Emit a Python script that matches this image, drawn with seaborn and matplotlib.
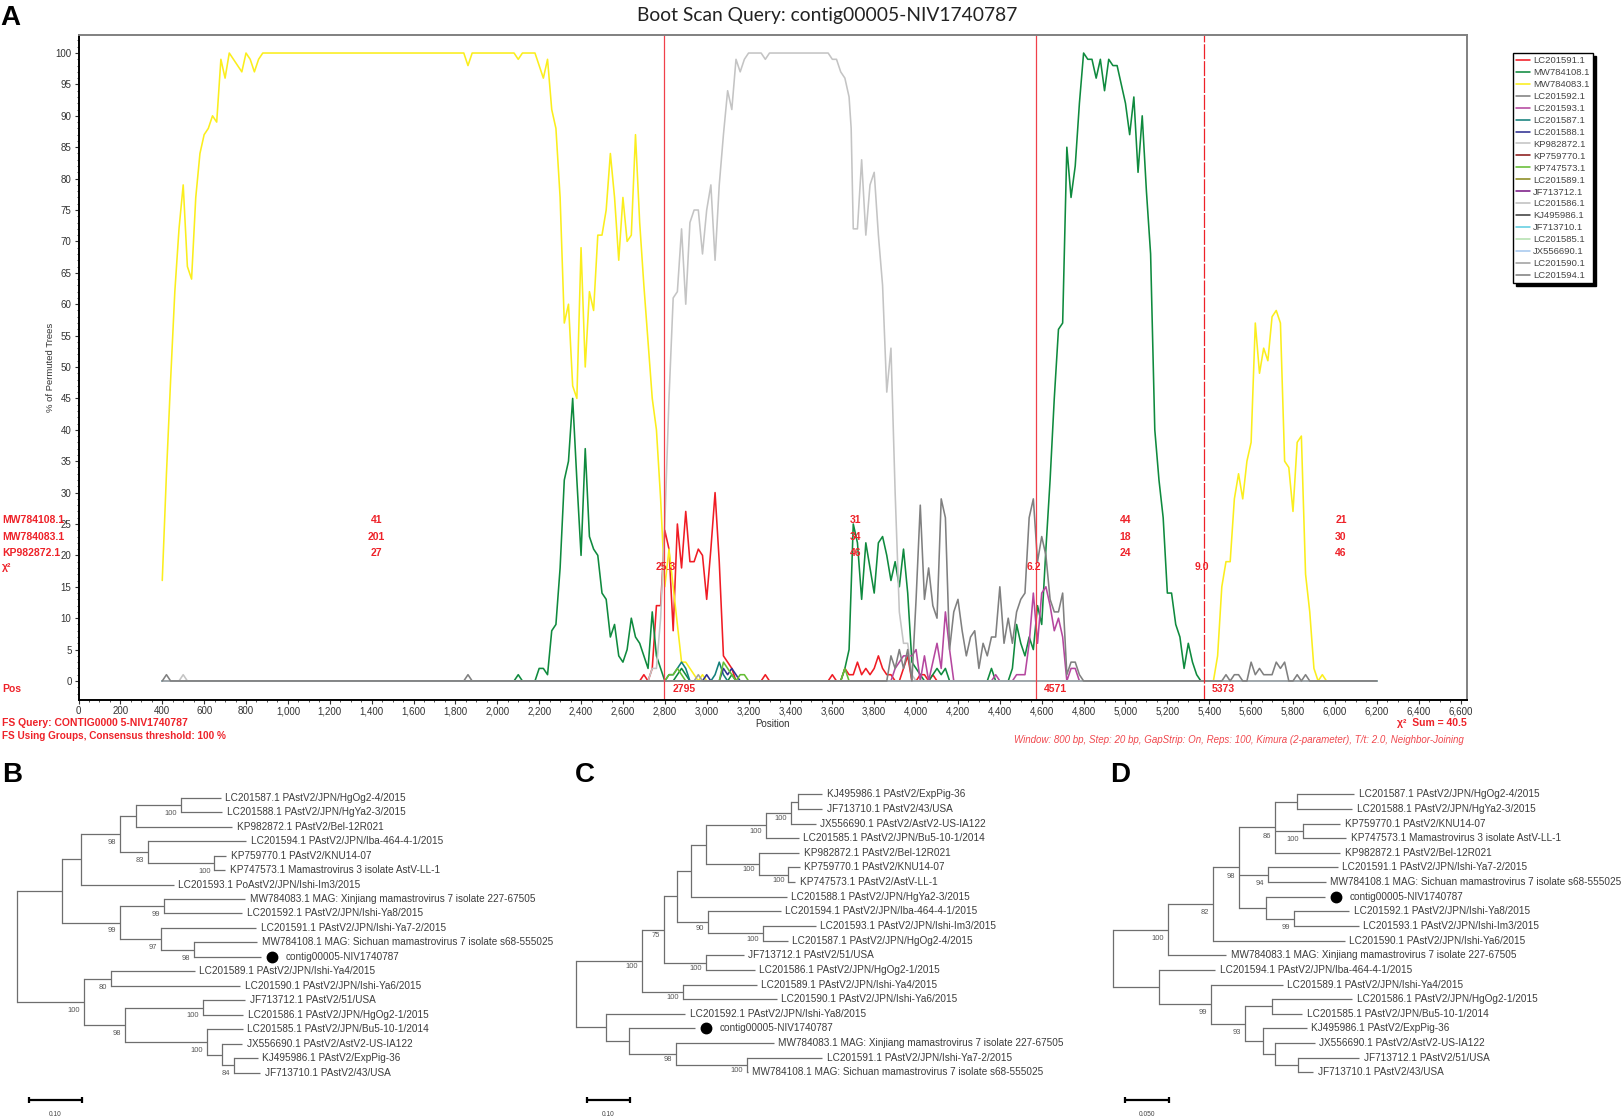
# bootscan panel plus three neighbour-joining trees
import pandas as pd
import matplotlib.pyplot as plt
import seaborn as sns
from matplotlib.ticker import FuncFormatter, MultipleLocator

W, H = 1624, 1118

# ------------------------
# Bootscan series (position, % of permuted trees)
# ------------------------
SERIES_NAMES = [
    "LC201591.1", "MW784108.1", "MW784083.1", "LC201592.1", "LC201593.1",
    "LC201587.1", "LC201588.1", "KP982872.1", "KP759770.1", "KP747573.1",
    "LC201589.1", "JF713712.1", "LC201586.1", "KJ495986.1", "JF713710.1",
    "LC201585.1", "JX556690.1", "LC201590.1", "LC201594.1",
]
SERIES_COLORS = [
    "#f01c24", "#0f8a3e", "#fbee1d", "#808080", "#b5479f",
    "#14807c", "#2f3192", "#c4c4c4", "#8b1a1a", "#65bd34",
    "#8a8a1f", "#7b1a86", "#c0c0c0", "#404040", "#62cde0",
    "#b4e0b0", "#a6c8ee", "#a0a0a0", "#808080",
]

LC201591_POS = [400, 2680, 2700, 2720, 2740, 2760, 2780, 2800, 2820, 2840, 2860, 2880, 2900, 2920, 2940,
                2960, 2980, 3000, 3020, 3040, 3060, 3080, 3100, 3120, 3140, 3260, 3280, 3300, 3580, 3600,
                3620, 3640, 3660, 3680, 3700, 3720, 3740, 3760, 3780, 3800, 3820, 3840, 3860, 3880, 3900,
                3920, 3940, 3960, 3980, 4000, 4020, 4040, 4060, 4080, 4100, 6200]
LC201591_VAL = [0, 0, 1, 0, 2, 12, 12, 24, 21, 8, 25, 18, 27, 19, 19,
                21, 20, 13, 21, 30, 19, 4, 3, 2, 0, 0, 1, 0, 0, 1,
                0, 0, 2, 1, 1, 3, 1, 2, 1, 2, 4, 2, 1, 1, 0,
                0, 2, 4, 0, 0, 1, 1, 0, 1, 0, 0]

MW784108_POS = [400, 2080, 2100, 2120, 2180, 2200, 2220, 2240, 2260, 2280, 2300, 2320, 2340, 2360, 2380,
                2400, 2420, 2440, 2460, 2480, 2500, 2520, 2540, 2560, 2580, 2600, 2620, 2640, 2660, 2680,
                2700, 2720, 2740, 2760, 2780, 2800, 2840, 2860, 2880, 2900, 2920, 3100, 3120, 3140, 3640,
                3660, 3680, 3700, 3720, 3740, 3760, 3780, 3800, 3820, 3840, 3860, 3880, 3900, 3920, 3940,
                3960, 3980, 4000, 4020, 4040, 4060, 4080, 4100, 4120, 4140, 4160, 4340, 4360, 4380, 4440,
                4460, 4480, 4500, 4520, 4540, 4560, 4580, 4600, 4620, 4640, 4660, 4680, 4700, 4720, 4740,
                4760, 4780, 4800, 4820, 4840, 4860, 4880, 4900, 4920, 4940, 4960, 4980, 5000, 5020, 5040,
                5060, 5080, 5100, 5120, 5140, 5160, 5180, 5200, 5220, 5240, 5260, 5280, 5300, 5320, 5340,
                5360, 6200]
MW784108_VAL = [0, 0, 1, 0, 0, 2, 2, 1, 8, 9, 18, 32, 35, 45, 32,
                20, 37, 23, 21, 20, 14, 13, 7, 9, 4, 3, 5, 10, 7, 6,
                4, 2, 11, 4, 2, 0, 0, 1, 2, 1, 0, 0, 1, 0, 0,
                2, 5, 25, 22, 13, 22, 18, 14, 22, 23, 20, 16, 19, 15, 21,
                14, 3, 2, 1, 0, 0, 1, 2, 1, 2, 0, 0, 2, 0, 0,
                2, 9, 6, 4, 7, 5, 12, 9, 21, 32, 45, 56, 57, 85, 77,
                82, 92, 100, 99, 99, 96, 99, 94, 99, 98, 98, 95, 92, 87, 93,
                81, 90, 78, 68, 40, 32, 26, 14, 14, 9, 7, 2, 6, 3, 1,
                0, 0]

MW784083_POS = [400, 420, 440, 460, 480, 500, 520, 540, 560, 580, 600, 620, 640, 660, 680,
                700, 720, 740, 760, 780, 800, 820, 840, 860, 880, 1840, 1860, 1880, 2080, 2100,
                2120, 2180, 2200, 2220, 2240, 2260, 2280, 2300, 2320, 2340, 2360, 2380, 2400, 2420, 2440,
                2460, 2480, 2500, 2520, 2540, 2560, 2580, 2600, 2620, 2640, 2660, 2680, 2700, 2720, 2740,
                2760, 2780, 2800, 2820, 2840, 2860, 2880, 2900, 2920, 2940, 2960, 2980, 3000, 5420, 5440,
                5460, 5480, 5500, 5520, 5540, 5560, 5580, 5600, 5620, 5640, 5660, 5680, 5700, 5720, 5740,
                5760, 5780, 5800, 5820, 5840, 5860, 5880, 5900, 5920, 5940, 5960, 6200]
MW784083_VAL = [16, 33, 48, 62, 72, 79, 66, 64, 77, 84, 87, 88, 90, 89, 99,
                96, 100, 99, 98, 97, 100, 99, 97, 99, 100, 100, 98, 100, 100, 99,
                100, 100, 98, 96, 99, 91, 88, 77, 57, 60, 47, 45, 69, 50, 62,
                59, 71, 71, 75, 84, 77, 67, 77, 70, 71, 87, 73, 63, 54, 45,
                40, 29, 15, 21, 15, 9, 3, 3, 2, 1, 0, 1, 0, 0, 4,
                15, 19, 19, 29, 33, 29, 35, 38, 57, 49, 53, 51, 58, 59, 57,
                35, 34, 27, 38, 39, 17, 11, 2, 0, 1, 0, 0]

LC201592_POS = [400, 1840, 1860, 1880, 6200]
LC201592_VAL = [0, 0, 1, 0, 0]

LC201593_POS = [400, 3880, 3900, 3920, 3940, 3960, 3980, 4000, 4020, 4040, 4060, 4080, 4100, 4120, 4140,
                4160, 4180, 4360, 4380, 4400, 4460, 4480, 4500, 4520, 4540, 4560, 4580, 4600, 4620, 4640,
                4660, 4680, 4700, 4720, 4740, 4760, 4780, 6200]
LC201593_VAL = [0, 0, 2, 3, 4, 4, 4, 5, 0, 4, 0, 3, 6, 2, 11,
                5, 0, 0, 1, 0, 0, 1, 1, 1, 6, 14, 6, 14, 15, 12,
                8, 10, 7, 0, 2, 2, 0, 0]

LC201587_POS = [400, 2800, 2820, 2840, 2860, 2880, 2900, 2920, 3020, 3040, 3060, 3080, 3100, 6200]
LC201587_VAL = [0, 0, 1, 1, 2, 3, 2, 0, 0, 1, 3, 1, 0, 0]

LC201588_POS = [400, 2980, 3000, 3020, 3060, 3080, 3100, 3120, 3140, 3160, 6200]
LC201588_VAL = [0, 0, 1, 0, 0, 2, 1, 2, 1, 0, 0]

KP982872_POS = [400, 480, 500, 520, 2720, 2740, 2760, 2780, 2800, 2820, 2840, 2860, 2880, 2900, 2920,
                2940, 2960, 2980, 3000, 3020, 3040, 3060, 3080, 3100, 3120, 3140, 3160, 3180, 3200, 3260,
                3280, 3300, 3580, 3600, 3620, 3640, 3660, 3680, 3690, 3700, 3720, 3740, 3760, 3780, 3800,
                3820, 3840, 3860, 3880, 3900, 3920, 3940, 3960, 3980, 4000, 6200]
KP982872_VAL = [0, 0, 1, 0, 0, 2, 2, 10, 25, 45, 61, 62, 72, 60, 73,
                75, 75, 68, 75, 79, 67, 79, 87, 94, 91, 99, 97, 99, 100, 100,
                99, 100, 100, 99, 99, 97, 96, 93, 88, 72, 72, 83, 71, 79, 81,
                71, 63, 46, 53, 30, 11, 6, 6, 1, 0, 0]

KP759770_POS = [400, 6200]
KP759770_VAL = [0, 0]

KP747573_POS = [400, 2800, 2820, 2840, 2860, 2880, 2900, 3060, 3080, 3100, 3120, 3140, 3160, 3180, 3200,
                3640, 3660, 3680, 6200]
KP747573_VAL = [0, 0, 1, 1, 2, 1, 0, 0, 3, 2, 1, 0, 1, 1, 0,
                0, 2, 0, 0]

LC201590_POS = [400, 2940, 2960, 2980, 6200]
LC201590_VAL = [0, 0, 1, 0, 0]

LC201594_POS = [400, 420, 440, 3860, 3880, 3900, 3920, 3940, 3960, 3980, 4000, 4020, 4040, 4060, 4080,
                4100, 4120, 4140, 4160, 4180, 4200, 4220, 4240, 4260, 4280, 4300, 4320, 4340, 4360, 4380,
                4400, 4420, 4440, 4460, 4480, 4500, 4520, 4540, 4560, 4580, 4600, 4620, 4640, 4660, 4680,
                4700, 4720, 4740, 4760, 4780, 4800, 5460, 5480, 5500, 5520, 5540, 5560, 5580, 5600, 5620,
                5640, 5660, 5680, 5700, 5720, 5740, 5760, 5780, 5800, 5820, 5840, 5860, 5880, 6200]
LC201594_VAL = [0, 1, 0, 0, 4, 2, 5, 2, 5, 0, 13, 28, 13, 18, 12,
                10, 29, 26, 5, 11, 13, 8, 4, 7, 8, 2, 6, 4, 7, 7,
                15, 6, 10, 6, 11, 13, 14, 26, 29, 19, 23, 20, 13, 11, 11,
                14, 1, 3, 3, 1, 0, 0, 1, 0, 1, 1, 0, 0, 3, 1,
                2, 1, 1, 1, 3, 2, 3, 0, 0, 1, 0, 1, 0, 0]

FLAT_POS = [400, 6200]
FLAT_VAL = [0, 0]

SERIES_DATA = {
    "LC201591.1": (LC201591_POS, LC201591_VAL),
    "MW784108.1": (MW784108_POS, MW784108_VAL),
    "MW784083.1": (MW784083_POS, MW784083_VAL),
    "LC201592.1": (LC201592_POS, LC201592_VAL),
    "LC201593.1": (LC201593_POS, LC201593_VAL),
    "LC201587.1": (LC201587_POS, LC201587_VAL),
    "LC201588.1": (LC201588_POS, LC201588_VAL),
    "KP982872.1": (KP982872_POS, KP982872_VAL),
    "KP759770.1": (KP759770_POS, KP759770_VAL),
    "KP747573.1": (KP747573_POS, KP747573_VAL),
    "LC201590.1": (LC201590_POS, LC201590_VAL),
    "LC201594.1": (LC201594_POS, LC201594_VAL),
}

# ------------------------
# Breakpoints and the red table under the curves
# ------------------------
BREAKPOINTS = [2795, 4571, 5373]
ROW_NAMES = ["MW784108.1", "MW784083.1", "KP982872.1"]
ROW_LEVELS = [25.6, 23.0, 20.4]
SEGMENT_CENTERS = [1423, 3711, 5001, 6029]
ROW_COUNTS = [[41, 31, 44, 21], [201, 34, 18, 30], [27, 46, 24, 46]]
CHI_VALUES = ["25.3", "6.2", "9.0"]
CHI_POS = [2804, 4563, 5366]

# ------------------------
# Trees: [depth, support, children...] and leaves (depth, label)
# ------------------------
TREE_B = [0, None,
          [.084, None,
           [.120, None,
            [.1945, 98,
             [.2255, None,
              [.310, 100, (.386, "LC201587.1 PAstV2/JPN/HgOg2-4/2015"), (.389, "LC201588.1 PAstV2/JPN/HgYa2-3/2015")],
              (.408, "KP982872.1 PAstV2/Bel-12R021")],
             [.248, 83,
              (.434, "LC201594.1 PAstV2/JPN/Iba-464-4-1/2015"),
              [.374, 100, (.396, "KP759770.1 PAstV2/KNU14-07"), (.394, "KP747573.1 Mamastrovirus 3 isolate AstV-LL-1")]]],
            (.2965, "LC201593.1 PoAstV2/JPN/Ishi-Im3/2015")],
           [.1945, 99,
            [.2786, 99, (.432, "MW784083.1 MAG: Xinjiang mamastrovirus 7 isolate 227-67505"),
             (.427, "LC201592.1 PAstV2/JPN/Ishi-Ya8/2015")],
            [.272, 97,
             (.453, "LC201591.1 PAstV2/JPN/Ishi-Ya7-2/2015"),
             [.3345, 98, (.455, "MW784108.1 MAG: Sichuan mamastrovirus 7 isolate s68-555025"),
              (.463, "contig00005-NIV1740787")]]]],
          [.1255, 100,
           [.177, 80, (.337, "LC201589.1 PAstV2/JPN/Ishi-Ya4/2015"), (.423, "LC201590.1 PAstV2/JPN/Ishi-Ya6/2015")],
           [.204, 98,
            [.353, 100, (.432, "JF713712.1 PAstV2/51/USA"), (.429, "LC201586.1 PAstV2/JPN/HgOg2-1/2015")],
            [.360, 100,
             (.4276, "LC201585.1 PAstV2/JPN/Bu5-10-1/2014"),
             [.3876, None,
              (.427, "JX556690.1 PAstV2/AstV2-US-IA122"),
              [.4117, 84, (.4565, "KJ495986.1 PAstV2/ExpPig-36"), (.461, "JF713710.1 PAstV2/43/USA")]]]]]]

TREE_C = [0, None,
          [.1535, 100,
           [.2047, 75,
            [.2362, None,
             [.2677, None,
              [.3016, None,
               [.4417, 100,
                [.4999, 100,
                 [.5156, None, (.573, "KJ495986.1 PAstV2/ExpPig-36"), (.573, "JF713710.1 PAstV2/43/USA")],
                 (.5575, "JX556690.1 PAstV2/AstV2-US-IA122")],
                (.518, "LC201585.1 PAstV2/JPN/Bu5-10-1/2014")],
               [.425, 100,
                (.5197, "KP982872.1 PAstV2/Bel-12R021"),
                [.4944, 100, (.5205, "KP759770.1 PAstV2/KNU14-07"), (.51, "KP747573.1 PAstV2/AstV-LL-1")]]],
              (.4905, "LC201588.1 PAstV2/JPN/HgYa2-3/2015")],
             [.307, 90,
              (.476, "LC201594.1 PAstV2/JPN/Iba-464-4-1/2015"),
              [.4354, 100, (.5575, "LC201593.1 PAstV2/JPN/Ishi-Im3/2015"), (.4929, "LC201587.1 PAstV2/JPN/HgOg2-4/2015")]]],
            [.3016, 100, (.3898, "JF713712.1 PAstV2/51/USA"), (.4157, "LC201586.1 PAstV2/JPN/HgOg2-1/2015")]],
           [.2488, 100, (.421, "LC201589.1 PAstV2/JPN/Ishi-Ya4/2015"), (.4668, "LC201590.1 PAstV2/JPN/Ishi-Ya6/2015")]],
          [.0709, None,
           (.2543, "LC201592.1 PAstV2/JPN/Ishi-Ya8/2015"),
           [.1228, None,
            (.2779, "contig00005-NIV1740787"),
            [.233, 98,
             (.4606, "MW784083.1 MAG: Xinjiang mamastrovirus 7 isolate 227-67505"),
             [.3985, 100, (.573, "LC201591.1 PAstV2/JPN/Ishi-Ya7-2/2015"),
              (.40, "MW784108.1 MAG: Sichuan mamastrovirus 7 isolate s68-555025")]]]]]

TREE_D = [0, None,
          [.0623, 100,
           [.1131, 82,
            [.1419, 98,
             [.1823, 86,
              [.2077, None, (.2719, "LC201587.1 PAstV2/JPN/HgOg2-4/2015"), (.27, "LC201588.1 PAstV2/JPN/HgYa2-3/2015")],
              [.2142, 100, (.2565, "KP759770.1 PAstV2/KNU14-07"), (.2631, "KP747573.1 Mamastrovirus 3 isolate AstV-LL-1")],
              (.2565, "KP982872.1 PAstV2/Bel-12R021")],
             [.1746, 94, (.2535, "LC201591.1 PAstV2/JPN/Ishi-Ya7-2/2015"),
              (.24, "MW784108.1 MAG: Sichuan mamastrovirus 7 isolate s68-555025")],
             [.1719, None,
              (.2392, "contig00005-NIV1740787"),
              [.2038, 99, (.2662, "LC201592.1 PAstV2/JPN/Ishi-Ya8/2015"), (.2769, "LC201593.1 PAstV2/JPN/Ishi-Im3/2015")]]],
            (.2612, "LC201590.1 PAstV2/JPN/Ishi-Ya6/2015")],
           (.1277, "MW784083.1 MAG: Xinjiang mamastrovirus 7 isolate 227-67505")],
          [.0512, None,
           (.1154, "LC201594.1 PAstV2/JPN/Iba-464-4-1/2015"),
           [.1104, 99,
            (.1912, "LC201589.1 PAstV2/JPN/Ishi-Ya4/2015"),
            [.1488, 93,
             [.1796, None, (.27, "LC201586.1 PAstV2/JPN/HgOg2-1/2015"), (.2131, "LC201585.1 PAstV2/JPN/Bu5-10-1/2014")],
             [.1692, None,
              (.2185, "KJ495986.1 PAstV2/ExpPig-36"),
              [.1823, None,
               (.2277, "JX556690.1 PAstV2/AstV2-US-IA122"),
               [.2085, None, (.2777, "JF713712.1 PAstV2/51/USA"), (.2258, "JF713710.1 PAstV2/43/USA")]]]]]]]

SCALE_B = (.022, .10, "0.10")
SCALE_C = (.026, .10, "0.10")
SCALE_D = (.0131, .05, "0.050")


def fig_xy(x, y):
    return x / W, 1 - y / H


def draw_tree(fig, tree, root_px, top_px, bottom_px, px_per_unit, support_drop, scale):
    width = 560
    left, bottom = fig_xy(root_px, bottom_px)
    ax = fig.add_axes([left, bottom, width / W, (bottom_px - top_px) / H])
    ax.set_xlim(0, width / px_per_unit)
    ax.set_ylim(19, 0)
    ax.axis("off")
    unit = 1 / px_per_unit
    rows = [0]

    def walk(node, parent_x):
        if isinstance(node, tuple):
            depth, label = node
            y = rows[0]
            rows[0] += 1
            ax.plot([parent_x, depth], [y, y], color=TREE_LINE, lw=0.9, clip_on=False, solid_capstyle="butt")
            if label.startswith("contig"):
                ax.plot(depth + 11 * unit, y, "o", color="black", ms=7.5, clip_on=False)
                ax.text(depth + 24 * unit, y, label, fontsize=LABEL_SIZE, color=TREE_TEXT, va="center")
            else:
                ax.text(depth + 4.5 * unit, y, label, fontsize=LABEL_SIZE, color=TREE_TEXT, va="center")
            return y
        depth, support = node[0], node[1]
        ys = [walk(child, depth) for child in node[2:]]
        y = (ys[0] + ys[-1]) / 2
        ax.plot([depth, depth], [ys[0], ys[-1]], color=TREE_LINE, lw=0.9, clip_on=False, solid_capstyle="projecting")
        if parent_x is not None:
            ax.plot([parent_x, depth], [y, y], color=TREE_LINE, lw=0.9, clip_on=False, solid_capstyle="butt")
        if support is not None:
            ax.text(depth - 4 * unit, y + support_drop, str(support), fontsize=5.4, color="#555555",
                    ha="right", va="center")
        return y

    walk(tree, None)

    # scale bar sits below the last leaf
    start, length, text = scale
    row_px = (bottom_px - top_px) / 19
    bar_y = (1100 - top_px) / row_px
    ax.plot([start, start + length], [bar_y, bar_y], color="black", lw=1.6, clip_on=False,
            marker="|", ms=5, mew=1.6)
    ax.text(start + length / 2, (1115 - top_px) / row_px, text, fontsize=4.8, color="#444444",
            ha="center", va="center")


sns.set_theme(style="ticks")
plt.rcParams["font.family"] = ["Liberation Sans", "DejaVu Sans"]

RED = "#ee2229"
TREE_LINE = "#6e6e6e"
TREE_TEXT = "#3c3c3c"
LABEL_SIZE = 7.22

fig = plt.figure(figsize=(W / 100, H / 100), dpi=100, facecolor="white")

# ------------------------
# Panel A
# ------------------------
left, bottom = fig_xy(78.5, 699.5)
ax = fig.add_axes([left, bottom, 1388.5 / W, 664.5 / H])

frames = []
for name in SERIES_NAMES:
    pos, val = SERIES_DATA.get(name, (FLAT_POS, FLAT_VAL))
    frames.append(pd.DataFrame({"position": pos, "percent": val, "series": name}))
long_df = pd.concat(frames, ignore_index=True)

sns.lineplot(data=long_df, x="position", y="percent", hue="series", hue_order=SERIES_NAMES,
             palette=dict(zip(SERIES_NAMES, SERIES_COLORS)), estimator=None, errorbar=None,
             linewidth=1.15, ax=ax)

ax.set_xlim(0, 6631)
ax.set_ylim(-2.95, 102.87)
ax.xaxis.set_major_locator(MultipleLocator(200))
ax.xaxis.set_minor_locator(MultipleLocator(50))
ax.xaxis.set_major_formatter(FuncFormatter(lambda v, _: f"{int(v):,}"))
ax.yaxis.set_major_locator(MultipleLocator(5))
ax.yaxis.set_minor_locator(MultipleLocator(1))
ax.set_yticks([v for v in range(0, 105, 5)])
ax.tick_params(axis="both", which="major", labelsize=7, length=3, width=0.8, pad=2, color="#333333",
               labelcolor="#333333")
ax.tick_params(axis="both", which="minor", length=1.5, width=0.6, color="#333333")
ax.set_xlabel("Position", fontsize=7, color="#333333")
ax.set_ylabel("% of Permuted Trees", fontsize=6.8, color="#333333")
ax.xaxis.set_label_coords(0.4995, -0.030)
ax.yaxis.set_label_coords(-0.017, 0.5)
for side, color in [("top", "#808080"), ("right", "#808080"), ("left", "black"), ("bottom", "black")]:
    ax.spines[side].set_color(color)
    ax.spines[side].set_linewidth(1.4)

for brk in BREAKPOINTS[:2]:
    ax.axvline(brk, color="#f0404a", lw=0.9)
ax.axvline(BREAKPOINTS[2], color="#ee2229", lw=0.9, dashes=(12, 1.5))

# red table
for name, level, counts in zip(ROW_NAMES, ROW_LEVELS, ROW_COUNTS):
    ax.text(-365, level, name, color=RED, fontsize=7.5, fontweight="bold", va="center")
    for center, count in zip(SEGMENT_CENTERS, counts):
        ax.text(center, level, str(count), color=RED, fontsize=7.5, fontweight="bold", ha="center", va="center")
ax.text(-365, 18.2, "χ²", color=RED, fontsize=7.5, fontweight="bold", va="center")
for chi_pos, chi in zip(CHI_POS, CHI_VALUES):
    ax.text(chi_pos, 18.2, chi, color=RED, fontsize=7.5, fontweight="bold", ha="center", va="center")
ax.text(-365, -1.3, "Pos", color=RED, fontsize=7.5, fontweight="bold", va="center")
for brk in BREAKPOINTS:
    ax.text(brk + 40, -1.3, str(brk), color=RED, fontsize=7.5, fontweight="bold", va="center")

sns.move_legend(ax, "upper left", bbox_to_anchor=fig_xy(1513, 53), bbox_transform=fig.transFigure,
                title=None, fontsize=6.8, frameon=True, fancybox=False, edgecolor="black", framealpha=1,
                shadow={"facecolor": "black", "edgecolor": "black", "alpha": 1},
                handlelength=1.45, handletextpad=0.35, labelspacing=0.31, borderpad=0.35, borderaxespad=0)
legend = ax.get_legend()
legend.get_frame().set_linewidth(1)
for text in legend.get_texts():
    text.set_color("#444444")

# ------------------------
# Figure level text
# ------------------------
fig.text(*fig_xy(827, 15), "Boot Scan Query: contig00005-NIV1740787", family="Lato", fontsize=13.9,
         color="#222222", ha="center", va="center")
for letter, x, y in [("A", 0, 25), ("B", 2, 782), ("C", 575, 782), ("D", 1110, 782)]:
    fig.text(*fig_xy(x, y), letter, fontsize=20, fontweight="bold", color="black", va="baseline")

fig.text(*fig_xy(2, 723), "FS Query: CONTIG0000 5-NIV1740787", color=RED, fontsize=7.5, fontweight="bold", va="center")
fig.text(*fig_xy(2, 736), "FS Using Groups, Consensus threshold: 100 %", color=RED, fontsize=7.2, fontweight="bold",
         va="center")
fig.text(*fig_xy(1467, 723), "χ²  Sum = 40.5", color=RED, fontsize=7.5, fontweight="bold", ha="right", va="center")
fig.text(*fig_xy(1464, 740), "Window: 800 bp, Step: 20 bp, GapStrip: On, Reps: 100, Kimura (2-parameter), T/t: 2.0, Neighbor-Joining",
         color="#f0484e", fontsize=7, style="italic", ha="right", va="center")

# ------------------------
# Panels B, C, D
# ------------------------
draw_tree(fig, TREE_B, 17.4, 797.7, 1072.7, 527, 0.58, SCALE_B)
draw_tree(fig, TREE_C, 575.9, 794.3, 1072.3, 430, 0.40, SCALE_C)
draw_tree(fig, TREE_D, 1113.2, 794.3, 1072.3, 886, 0.60, SCALE_D)

fig.savefig("out.png", dpi=100, facecolor="white")
